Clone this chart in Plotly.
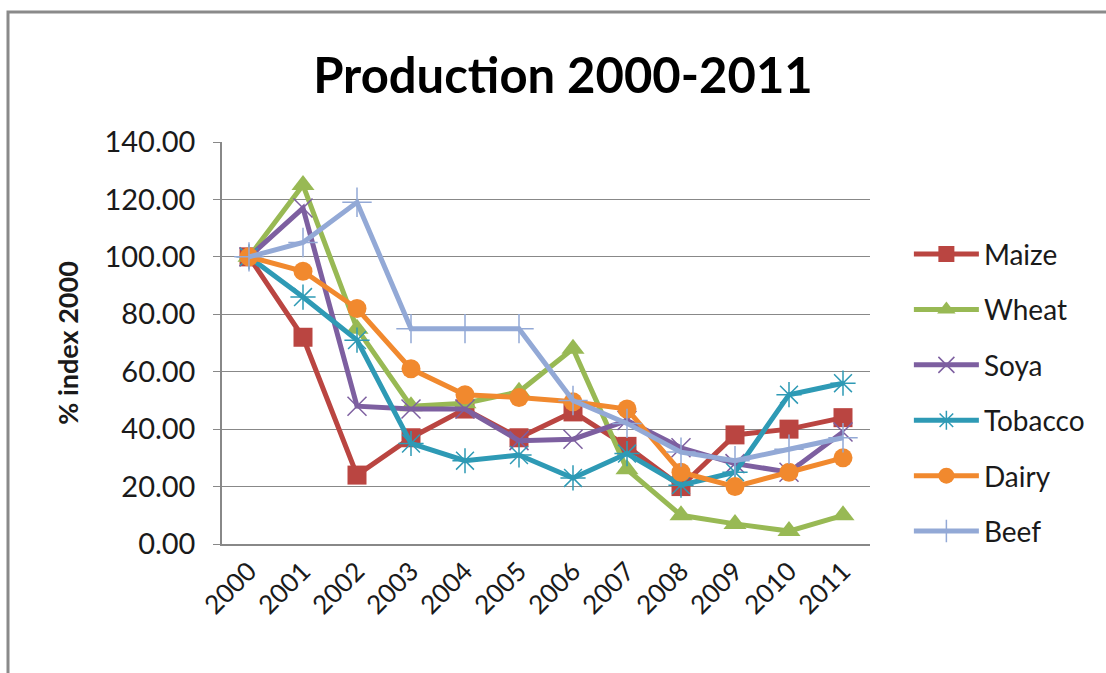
import plotly.graph_objects as go

years = ["2000", "2001", "2002", "2003", "2004", "2005", "2006", "2007", "2008", "2009", "2010", "2011"]
maize = [100, 72, 24, 37, 47, 37, 46, 34, 20, 38, 40, 44]
wheat = [100, 125, 75, 48, 49, 53, 68, 26, 10, 7, 4.5, 10]
soya = [100, 117, 48, 47, 47, 36, 36.5, 43, 33.5, 28, 25, 39]
tobacco = [100, 86, 71, 35, 29, 31, 23, 31.5, 20.5, 25, 52, 56]
dairy = [100, 95, 82, 61, 52, 51, 49.5, 47, 25, 20, 25, 30]
beef = [100, 105, 119, 75, 75, 75, 50, 42, 32, 29, 33, 37]

series = [
    ("Maize", maize, "#BA4541", "square", 19, 0),
    ("Wheat", wheat, "#98B954", "triangle-up", 20, 0),
    ("Soya", soya, "#7D5FA0", "x-thin-open", 19, 1.5),
    ("Tobacco", tobacco, "#2E9AB5", "asterisk-open", 21, 1.5),
    ("Dairy", dairy, "#F1892E", "circle", 19, 0),
    ("Beef", beef, "#93A9D6", "cross-thin-open", 21, 1.5),
]

fig = go.Figure()
for i, (name, vals, color, sym, size, lw) in enumerate(series):
    marker = dict(symbol=sym, size=size, color=color)
    if lw:
        marker["line"] = dict(color=color, width=lw)
    fig.add_trace(go.Scatter(
        x=years, y=vals, name=name, mode="lines+markers",
        line=dict(color=color, width=5), marker=marker,
        legendgroup=f"g{i}",
    ))

font_family = "Lato, 'Open Sans', sans-serif"
fig.update_layout(
    width=1106, height=673,
    margin=dict(l=222, r=236, t=142, b=129),
    paper_bgcolor="white", plot_bgcolor="white",
    font=dict(family=font_family, color="#1a1a1a"),
    title=dict(text="<b>Production 2000-2011</b>", x=0.509, xanchor="center",
               y=0.888, yanchor="middle", font=dict(size=49, color="black")),
    showlegend=True,
    legend=dict(x=1.06, xanchor="left", y=0.376, yanchor="middle",
                font=dict(size=28, color="#1a1a1a"), tracegroupgap=16,
                itemwidth=65, bgcolor="rgba(0,0,0,0)"),
    xaxis=dict(type="category", showline=True, linecolor="#888888", linewidth=1.5,
               showgrid=False, ticks="", tickangle=-45, tickfont=dict(size=26),
               range=[-0.5, 11.5], zeroline=False),
    yaxis=dict(range=[0, 140], dtick=20, tickformat=".2f", showline=True,
               linecolor="#888888", linewidth=1.5, showgrid=True, gridcolor="#888888",
               gridwidth=1, ticks="outside", ticklen=7, tickcolor="#888888",
               tickfont=dict(size=29), zeroline=False, ticklabelstandoff=12,
               title=dict(text="<b>% index 2000</b>", font=dict(size=27), standoff=18)),
    shapes=[dict(type="rect", xref="paper", yref="paper",
                 x0=(8 - 222) / 648, x1=(1115 - 222) / 648,
                 y0=(544 - 690) / 402, y1=(544 - 12) / 402,
                 line=dict(color="#8a8a8a", width=3), layer="below")],
)

fig.write_html("out.html")
